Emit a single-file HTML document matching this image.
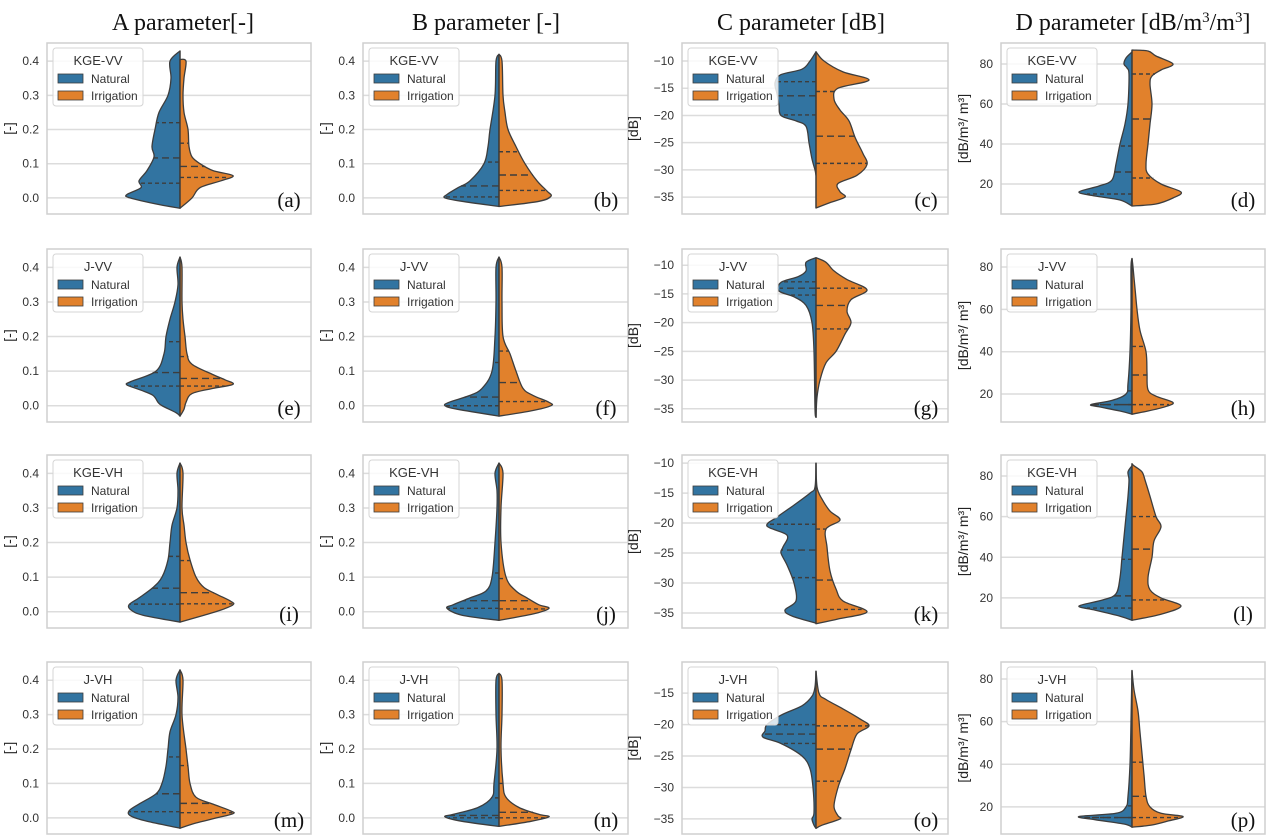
<!DOCTYPE html>
<html><head><meta charset="utf-8">
<style>
html,body{margin:0;padding:0;background:#fff;}
svg{display:block;}
.tick{font-family:"Liberation Sans",sans-serif;font-size:12px;fill:#333;}
.ylab{font-family:"Liberation Sans",sans-serif;font-size:14px;fill:#222;}
.title{font-family:"Liberation Serif",serif;font-size:24px;fill:#111;}
.plab{font-family:"Liberation Serif",serif;font-size:21px;fill:#111;}
.leg{font-family:"Liberation Sans",sans-serif;font-size:12px;fill:#333;}
.legt{font-family:"Liberation Sans",sans-serif;font-size:13px;fill:#333;}
</style></head>
<body>
<svg id="fig" width="1272" height="840" viewBox="0 0 1272 840" xmlns="http://www.w3.org/2000/svg">
<text class="title" x="183" y="30" text-anchor="middle">A  parameter[-]</text>
<text class="title" x="486" y="30" text-anchor="middle">B parameter [-]</text>
<text class="title" x="801" y="30" text-anchor="middle">C parameter [dB]</text>
<text class="title" x="1133" y="30" text-anchor="middle">D parameter [dB/m<tspan dy="-8" font-size="15">3</tspan><tspan dy="8">/m</tspan><tspan dy="-8" font-size="15">3</tspan><tspan dy="8">]</tspan></text>
</svg>
<script>
// ---- data: [value, half-width density] pairs per violin half ----
const natA=[[0.43,0],[0.4,10],[0.35,9],[0.3,12],[0.25,21],[0.2,25],[0.15,28],[0.12,26],[0.08,33],[0.05,41],[0.03,39],[0.01,53],[0,50],[-0.02,20],[-0.03,0]];
const irrA=[[0.405,0],[0.4,6],[0.35,4],[0.3,3],[0.25,4],[0.2,8],[0.15,9],[0.12,12],[0.1,20],[0.08,33],[0.065,53],[0.05,41],[0.03,20],[0,12],[-0.03,0]];
const natB=[[0.42,0],[0.4,3],[0.3,4],[0.2,9],[0.15,11],[0.1,15],[0.05,29],[0.03,41],[0.01,52],[0,54],[-0.01,37],[-0.025,0]];
const irrB=[[0.42,0],[0.4,3],[0.3,4],[0.25,6],[0.2,9],[0.15,17],[0.1,26],[0.05,38],[0.02,48],[0.005,52],[-0.01,40],[-0.025,0]];
const natC=[[-8.3,0],[-10,6],[-11.5,14],[-12.5,35],[-14,41],[-16,39],[-18,37],[-20,35],[-21,20],[-22,10],[-25,7],[-28,4],[-30,1],[-31,0]];
const irrC=[[-8.3,0],[-10,8],[-12,27],[-13.5,53],[-15,22],[-17,18],[-19,24],[-21,33],[-24,39],[-27,47],[-29,51],[-31,41],[-32.5,22],[-34,24],[-35,29],[-36,14],[-37,0]];
const natD=[[86,0],[83,6],[80,8],[78,5],[75,3],[60,4],[50,7],[40,12],[30,16],[22,20],[19,33],[16,53],[14,37],[12,12],[9,0]];
const irrD=[[87,0],[86.5,16],[84,24],[80,41],[77,29],[74,20],[70,18],[60,20],[50,18],[40,16],[30,14],[25,16],[20,29],[16,49],[13,41],[10,24],[9,0]];
const natE=[[0.43,0],[0.4,3],[0.35,2],[0.3,5],[0.25,10],[0.2,14],[0.15,16],[0.1,24],[0.07,49],[0.06,53],[0.045,39],[0.03,27],[0.01,22],[0,18],[-0.02,4],[-0.03,0]];
const irrE=[[0.43,0],[0.4,2],[0.3,2],[0.25,3],[0.2,5],[0.15,7],[0.12,12],[0.09,33],[0.075,45],[0.062,53],[0.05,33],[0.035,12],[0.01,6],[-0.01,4],[-0.03,0]];
const natF=[[0.43,0],[0.4,3],[0.3,3],[0.2,4],[0.1,7],[0.05,17],[0.03,29],[0.01,50],[0,54],[-0.01,42],[-0.03,0]];
const irrF=[[0.43,0],[0.4,3],[0.3,3],[0.2,4],[0.15,11],[0.1,17],[0.05,24],[0.03,34],[0.01,50],[0,52],[-0.015,32],[-0.03,0]];
const natG=[[-8.7,0],[-9.5,10],[-11,10],[-12,18],[-13,35],[-14.5,37],[-15.5,22],[-17,10],[-20,4],[-25,2],[-35,1],[-36.5,0]];
const irrG=[[-8.7,0],[-9.5,10],[-11,18],[-12.5,31],[-14.3,51],[-16,35],[-18,31],[-20,35],[-22,29],[-25,20],[-27,10],[-30,4],[-33,1],[-36.5,0]];
const natH=[[84,0],[80,1],[60,1],[40,2],[25,4],[20,6],[17,20],[15,41],[14,33],[12,12],[10.5,0]];
const irrH=[[84,0],[80,1],[70,3],[60,5],[50,8],[40,14],[30,15],[22,16],[19,24],[16,41],[14,33],[12,16],[10.5,0]];
const natI=[[0.43,0],[0.4,3],[0.35,2],[0.3,3],[0.25,8],[0.2,10],[0.15,12],[0.1,18],[0.07,27],[0.04,41],[0.02,51],[0.005,49],[-0.01,37],[-0.03,0]];
const irrI=[[0.43,0],[0.4,3],[0.3,2],[0.25,4],[0.2,6],[0.15,10],[0.1,16],[0.07,24],[0.05,37],[0.03,51],[0.02,53],[0.005,41],[-0.01,24],[-0.03,0]];
const natJ=[[0.43,0],[0.4,4],[0.35,2],[0.3,2],[0.2,4],[0.1,7],[0.06,13],[0.04,29],[0.02,46],[0.01,52],[-0.01,37],[-0.025,0]];
const irrJ=[[0.43,0],[0.4,4],[0.3,2],[0.2,2],[0.1,7],[0.06,17],[0.04,28],[0.02,40],[0.01,50],[-0.005,36],[-0.025,0]];
const natK=[[-10,0],[-14,1],[-15,6],[-17,22],[-19,39],[-20.5,49],[-22,29],[-24,33],[-25,35],[-27,29],[-30,22],[-33,20],[-34.5,31],[-35.5,24],[-36.7,0]];
const irrK=[[-10,0],[-14,1],[-16,6],[-18,14],[-19.5,24],[-21,10],[-24,11],[-28,14],[-31,20],[-33,27],[-34.8,51],[-36,22],[-36.8,0]];
const natL=[[85,0],[82,4],[78,3],[70,4],[60,6],[50,8],[40,10],[30,12],[22,16],[19,29],[16,53],[14,37],[11,12],[9,0]];
const irrL=[[86,0],[85,2],[82,10],[78,13],[70,18],[60,24],[55,29],[48,22],[40,20],[30,16],[24,18],[20,29],[16,49],[12,29],[9,0]];
const natM=[[0.43,0],[0.4,4],[0.35,2],[0.3,4],[0.25,10],[0.2,12],[0.15,14],[0.1,18],[0.07,24],[0.04,41],[0.02,51],[0.005,49],[-0.01,33],[-0.03,0]];
const irrM=[[0.43,0],[0.4,3],[0.3,2],[0.2,6],[0.15,8],[0.1,10],[0.06,16],[0.04,33],[0.02,51],[0.012,53],[0,37],[-0.015,16],[-0.03,0]];
const natN=[[0.42,0],[0.4,3],[0.3,3],[0.2,2],[0.1,5],[0.06,7],[0.03,21],[0.01,46],[0.003,54],[-0.01,37],[-0.025,0]];
const irrN=[[0.42,0],[0.4,3],[0.3,3],[0.2,2],[0.1,4],[0.06,7],[0.03,20],[0.01,40],[0.003,50],[-0.01,32],[-0.025,0]];
const natO=[[-11.5,0],[-14,1],[-15.5,4],[-17,14],[-18.5,35],[-20,49],[-21,51],[-22,53],[-23,35],[-25,14],[-27,6],[-30,3],[-34,2],[-35,4],[-36,2],[-36.5,0]];
const irrO=[[-11.5,0],[-15,3],[-16,10],[-17.5,27],[-19,43],[-20.2,53],[-21.5,41],[-24,35],[-27,29],[-30,22],[-33,18],[-34.5,22],[-35,24],[-36,6],[-36.5,0]];
const natP=[[84,0],[60,1],[40,2],[25,4],[20,6],[17,16],[15.5,53],[14,37],[12,8],[10.5,0]];
const irrP=[[84,0],[75,2],[65,6],[55,8],[45,10],[35,12],[25,14],[20,18],[17,29],[15.5,51],[13.5,37],[11.5,20],[10.5,0]];
// quartiles [q1, median, q3]
const qNat=[[0.043,0.117,0.22],[0.003,0.035,0.105],[-13.8,-16.4,-19.9],[15,26,39],
 [0.057,0.096,0.185],[0.0,0.025,0.125],[-12.9,-14,-15.2],[15,15,21.5],
 [0.022,0.068,0.16],[0.01,0.032,0.112],[-20.2,-24.5,-29.1],[15,21,39],
 [0.018,0.07,0.177],[0.0,0.007,0.058],[-20,-21.5,-23],[15,15,20.5]];
const qIrr=[[0.06,0.092,0.16],[0.022,0.067,0.135],[-15.6,-23.8,-28.8],[23,52.5,75],
 [0.057,0.079,0.142],[0.012,0.067,0.158],[-14,-17,-21.1],[15,29,42.5],
 [0.023,0.055,0.148],[0.008,0.032,0.096],[-21,-29.5,-34.4],[19,44,60],
 [0.015,0.042,0.152],[0.0,0.016,0.1],[-20.2,-23.9,-29],[15,25,41]];
const legendTitles=["KGE-VV","J-VV","KGE-VH","J-VH"];
const tickAB=[0,0.1,0.2,0.3,0.4];
const tickLabAB=["0.0","0.1","0.2","0.3","0.4"];
const tickC=[-10,-15,-20,-25,-30,-35];
const tickC4=[-15,-20,-25,-30,-35];
const tickD=[20,40,60,80];
const panelLetters="abcdefghijklmnop";

const NAT=[natA,natB,natC,natD,natE,natF,natG,natH,natI,natJ,natK,natL,natM,natN,natO,natP];
const IRR=[irrA,irrB,irrC,irrD,irrE,irrF,irrG,irrH,irrI,irrJ,irrK,irrL,irrM,irrN,irrO,irrP];

// layout
const colX=[[47,311],[363,628],[682,948],[1001,1265]];
const rowY=[[43,214],[249,422],[455,628],[662,834]];
const centers=[180,499,816,1132];
const domC=[[-38.1,-6.69],[-37.3,-7.18],[-37.5,-8.65],[-37.4,-10.04]];
const domD=[[5,90.5],[6.8,88.5],[5.2,90.3],[7.3,88]];
const BLUE="#3274a1", ORANGE="#e1812c", EDGE="#3d3d3d";
const svg=document.getElementById('fig');
const NS="http://www.w3.org/2000/svg";
function mk(tag,attrs,parent){const e=document.createElementNS(NS,tag);for(const k in attrs)e.setAttribute(k,attrs[k]);(parent||svg).appendChild(e);return e;}
function smooth(pts){
  let d="M"+pts[0][0].toFixed(1)+","+pts[0][1].toFixed(1);
  for(let i=0;i<pts.length-1;i++){
    const p0=pts[Math.max(0,i-1)],p1=pts[i],p2=pts[i+1],p3=pts[Math.min(pts.length-1,i+2)];
    const c1=[p1[0]+(p2[0]-p0[0])/6,p1[1]+(p2[1]-p0[1])/6];
    const c2=[p2[0]-(p3[0]-p1[0])/6,p2[1]-(p3[1]-p1[1])/6];
    d+=" C"+c1[0].toFixed(1)+","+c1[1].toFixed(1)+" "+c2[0].toFixed(1)+","+c2[1].toFixed(1)+" "+p2[0].toFixed(1)+","+p2[1].toFixed(1);
  }
  return d;
}
function widthAt(data,v){
  for(let i=0;i<data.length-1;i++){
    const a=data[i],b=data[i+1];
    if((v<=a[0]&&v>=b[0])){const t=(a[0]-v)/((a[0]-b[0])||1);return a[1]+(b[1]-a[1])*t;}
  }
  return 0;
}
for(let r=0;r<4;r++){
  for(let c=0;c<4;c++){
    const idx=r*4+c;
    const [x0,x1]=colX[c],[y0,y1]=rowY[r];
    let dom,ticks,labs;
    if(c<2){dom=[-0.047,0.453];ticks=tickAB;labs=tickLabAB;}
    else if(c===2){dom=domC[r];ticks=(r===3?tickC4:tickC);labs=ticks.map(t=>"\u2212"+Math.abs(t));}
    else {dom=domD[r];ticks=tickD;labs=ticks.map(String);}
    const ys=v=>y1-(v-dom[0])/(dom[1]-dom[0])*(y1-y0);
    const g=mk('g',{});
    
    
    mk('rect',{x:x0,y:y0,width:x1-x0,height:y1-y0,fill:'#fff'},g);
    ticks.forEach((t,i)=>{
      const gl=mk('line',{x1:x0,x2:x1,y1:ys(t),y2:ys(t),stroke:'#dcdcdc','stroke-width':1.5},g);
      
      
      const tl=mk('text',{x:x0-8,y:ys(t)+4,'text-anchor':'end',class:'tick'},g);
      tl.textContent=labs[i];
      
      
    });
    const fr=mk('rect',{x:x0,y:y0,width:x1-x0,height:y1-y0,fill:'none',stroke:'#cfcfcf','stroke-width':1.5},g);
    
    
    // y label
    const offs=[-33,-33,-44,-33];
    const lx=x0+offs[c],ly=(y0+y1)/2;
    const yl=mk('text',{x:lx,y:ly,'text-anchor':'middle',class:'ylab',transform:`rotate(-90 ${lx} ${ly})`},g);
    yl.textContent=c<2?"[-]":(c===2?"[dB]":"[dB/m\u00b3/ m\u00b3]");
    
    
    const cx=centers[c];
    const halves=[[NAT[idx],-1,BLUE,qNat[idx],'natural'],[IRR[idx],1,ORANGE,qIrr[idx],'irrigation']];
    halves.forEach(([data,side,col,q,nm])=>{
      const pts=data.map(([v,w])=>[cx+side*w,ys(v)]);
      const d=smooth(pts)+` L${cx},${ys(data[data.length-1][0]).toFixed(1)} L${cx},${ys(data[0][0]).toFixed(1)} Z`;
      const p=mk('path',{d:d,fill:col,stroke:EDGE,'stroke-width':1.3,'stroke-linejoin':'round'},g);
      
      
      q.forEach((qv,k)=>{
        const w=widthAt(data,qv);
        const l=mk('line',{x1:cx,x2:cx+side*w,y1:ys(qv),y2:ys(qv),stroke:EDGE,'stroke-width':1.4,'stroke-dasharray':k===1?'7,4':'4,3'},g);
        
        
      });
    });
    const cl=mk('line',{x1:cx,x2:cx,y1:ys(Math.max(NAT[idx][0][0],IRR[idx][0][0])),y2:ys(Math.min(NAT[idx][NAT[idx].length-1][0],IRR[idx][IRR[idx].length-1][0])),stroke:EDGE,'stroke-width':1.3},g);
    
    
    // legend
    const lg=mk('g',{},g);
    
    
    const lx0=x0+6,ly0=y0+5;
    mk('rect',{x:lx0,y:ly0,width:90,height:58,rx:3,fill:'#fff','fill-opacity':0.82,stroke:'#d5d5d5','stroke-width':1},lg);
    const lt=mk('text',{x:lx0+45,y:ly0+17,'text-anchor':'middle',class:'legt'},lg);
    lt.textContent=legendTitles[r];
    
    
    [["Natural",BLUE,0],["Irrigation",ORANGE,1]].forEach(([t,col,k])=>{
      const yy=ly0+26+k*17;
      const pr=mk('rect',{x:lx0+5,y:yy,width:25,height:9,fill:col,stroke:EDGE,'stroke-width':0.8},lg);
      
      
      const tx=mk('text',{x:lx0+38,y:yy+9,class:'leg'},lg);
      tx.textContent=t;
      
      
    });
    const pl=mk('text',{x:x1-22,y:y1-7,'text-anchor':'middle',class:'plab'},g);
    pl.textContent="("+panelLetters[idx]+")";
    
    
  }
}
</script>
</body></html>
